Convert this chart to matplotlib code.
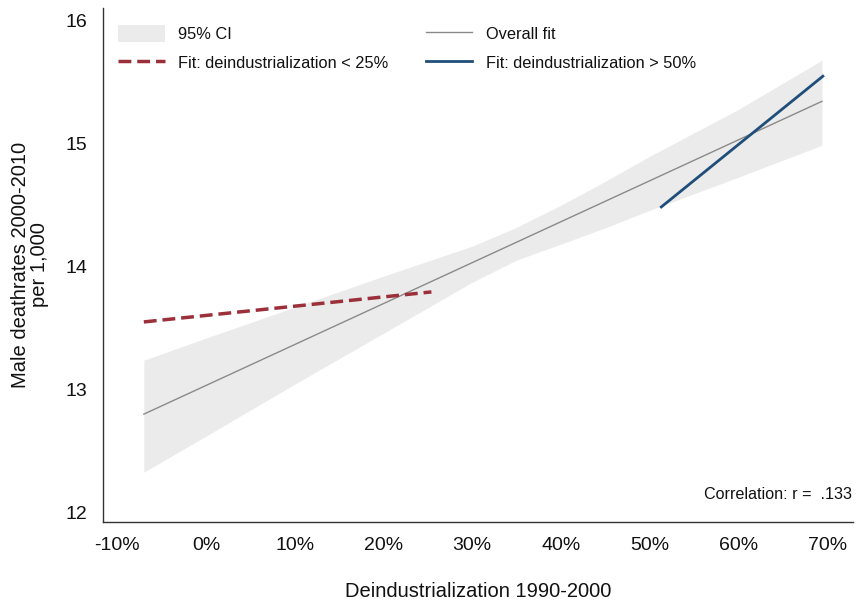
import matplotlib
matplotlib.use("Agg")
import matplotlib.pyplot as plt
from matplotlib.patches import Patch
from matplotlib.lines import Line2D
from matplotlib.ticker import FuncFormatter

plt.rcParams['font.family'] = ['Liberation Sans', 'DejaVu Sans']

# Data
ci_x = [-7, 0, 10, 20, 30, 35, 40, 45, 50, 60, 69.4]
ci_upper = [13.236, 13.415, 13.667, 13.919, 14.163, 14.317, 14.496, 14.691, 14.894, 15.276, 15.675]
ci_lower = [12.325, 12.618, 13.041, 13.455, 13.870, 14.050, 14.180, 14.312, 14.455, 14.724, 14.984]

overall_x = [-7, 69.4]
overall_y = [12.797, 15.341]

low_x = [-7, 25.4]
low_y = [13.547, 13.791]

high_x = [51.3, 69.5]
high_y = [14.482, 15.545]

x_ticks = [-10, 0, 10, 20, 30, 40, 50, 60, 70]
y_ticks = [12, 13, 14, 15, 16]
corr_text = "Correlation: r =  .133"

fig = plt.figure(figsize=(8.64, 6.05), dpi=100)
ax = fig.add_axes([0.1192, 0.1372, 0.8681, 0.8496])

ci_color = '#ebebeb'
red = '#9b2f3a'
blue = '#1f4e7a'
gray = '#8a8a8a'
txt = '#111111'

ax.fill_between(ci_x, ci_lower, ci_upper, color=ci_color, lw=0, zorder=1)
ax.plot(overall_x, overall_y, color=gray, lw=1.0, zorder=2)
ax.plot(low_x, low_y, color=red, lw=2.5, dashes=(3.7, 1.7), zorder=3)
ax.plot(high_x, high_y, color=blue, lw=2.0, zorder=3)

ax.set_xlim(-11.6, 72.9)
ax.set_ylim(11.92, 16.1)
ax.set_xticks(x_ticks)
ax.set_yticks(y_ticks)
ax.xaxis.set_major_formatter(FuncFormatter(lambda v, p: f"{int(round(v))}%"))
ax.tick_params(axis='both', length=0, labelsize=14, colors=txt)
ax.tick_params(axis='x', pad=11)
ax.tick_params(axis='y', pad=11)

for s in ['top', 'right']:
    ax.spines[s].set_visible(False)
for s in ['left', 'bottom']:
    ax.spines[s].set_color('#333333')
    ax.spines[s].set_linewidth(1.0)

ax.set_xlabel("Deindustrialization 1990-2000", fontsize=14.5, labelpad=20, color=txt)
ax.set_ylabel("Male deathrates 2000-2010\nper 1,000", fontsize=14.5, labelpad=12,
              color=txt, linespacing=1.0)

handles = [
    Patch(facecolor=ci_color, edgecolor='none'),
    Line2D([], [], color=red, lw=2.5, dashes=(3.7, 1.7)),
    Line2D([], [], color=gray, lw=1.0),
    Line2D([], [], color=blue, lw=2.0),
]
labels = ["95% CI", "Fit: deindustrialization < 25%", "Overall fit",
          "Fit: deindustrialization > 50%"]
ax.legend(handles, labels, ncol=2, loc='upper left', bbox_to_anchor=(0.02, 0.967),
          frameon=False, fontsize=11.8, handlelength=2.85, handleheight=1.25,
          handletextpad=0.8, columnspacing=2.3, labelspacing=0.68, borderpad=0,
          borderaxespad=0, labelcolor=txt)

ax.text(0.9987, 0.054, corr_text, transform=ax.transAxes, ha='right', va='center',
        fontsize=11.6, color=txt)

fig.savefig("out.png", dpi=100)
